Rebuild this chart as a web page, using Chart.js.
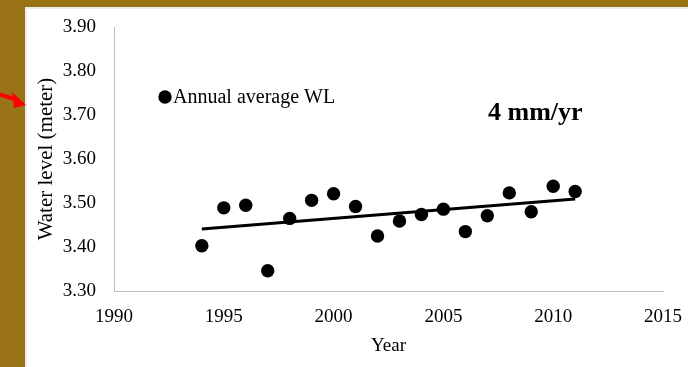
<!DOCTYPE html>
<html>
<head>
<meta charset="utf-8">
<script src="https://cdn.jsdelivr.net/npm/chart.js@4/dist/chart.umd.min.js"></script>
<style>
  html, body { margin: 0; padding: 0; }
  body { width: 688px; height: 367px; background: #9a7316; position: relative; overflow: hidden; }
  #wrap { position: absolute; left: 25px; top: 7px; width: 663px; height: 360px; background: #ffffff; box-shadow: inset 2px 2px 0 #ececec; }
  #arrow { position: absolute; left: 0; top: 80px; }
</style>
</head>
<body>
<div id="wrap"><canvas id="c" width="663" height="360"></canvas></div>
<svg id="arrow" width="30" height="40" viewBox="0 0 30 40">
  <line x1="0" y1="14.5" x2="17" y2="20" stroke="#ff0000" stroke-width="4"/>
  <polygon points="12,12 26,25 14,28" fill="#ff0000"/>
</svg>
<script>
const years = [1994,1995,1996,1997,1998,1999,2000,2001,2002,2003,2004,2005,2006,2007,2008,2009,2010,2011];
const waterLevel = [3.403,3.489,3.495,3.346,3.465,3.506,3.521,3.492,3.425,3.459,3.474,3.486,3.435,3.471,3.523,3.480,3.538,3.526];
const trendYears = [1994, 2011];
const trendValues = [3.441, 3.509];
const xTicks = [1990, 1995, 2000, 2005, 2010, 2015];
const yTicks = [3.30, 3.40, 3.50, 3.60, 3.70, 3.80, 3.90];
const seriesLabel = 'Annual average WL';
const rateLabel = '4 mm/yr';

const FONT = "'Liberation Serif', 'Times New Roman', serif";

const overlay = {
  id: 'overlay',
  afterDatasetsDraw(chart) {
    const {ctx, chartArea} = chart;
    ctx.save();
    // legend
    const mx = chartArea.left + 51, my = chartArea.top + 70;
    ctx.fillStyle = '#000';
    ctx.beginPath();
    ctx.arc(mx, my, 6.7, 0, Math.PI * 2);
    ctx.fill();
    ctx.font = "20px " + FONT;
    ctx.textBaseline = 'middle';
    ctx.textAlign = 'left';
    ctx.fillText(seriesLabel, mx + 8, my + 1);
    // rate annotation
    ctx.font = "bold 26px " + FONT;
    ctx.fillText(rateLabel, chartArea.left + 374, chartArea.top + 86);
    ctx.restore();
  }
};

new Chart(document.getElementById('c'), {
  type: 'scatter',
  data: {
    datasets: [
      {
        label: seriesLabel,
        data: years.map((y, i) => ({x: y, y: waterLevel[i]})),
        pointRadius: 6.7,
        pointHoverRadius: 6.7,
        backgroundColor: '#000',
        borderColor: '#000',
        borderWidth: 0
      },
      {
        label: 'Trend',
        type: 'line',
        data: trendYears.map((y, i) => ({x: y, y: trendValues[i]})),
        borderColor: '#000',
        borderWidth: 3,
        pointRadius: 0,
        fill: false
      }
    ]
  },
  options: {
    responsive: false,
    animation: false,
    devicePixelRatio: 1,
    layout: { padding: { left: 0, top: 20, right: 25, bottom: 0 } },
    plugins: { legend: { display: false }, tooltip: { enabled: false } },
    scales: {
      x: {
        type: 'linear',
        min: 1990, max: 2015,
        afterBuildTicks(scale) { scale.ticks = xTicks.map(v => ({value: v})); },
        afterFit(scale) { scale.height = 76; scale.paddingLeft = 0; scale.paddingRight = 0; },
        grid: { display: false, drawTicks: false },
        border: { display: true, color: '#bfbfbf', width: 1 },
        ticks: { color: '#000', font: { family: FONT, size: 19 }, padding: 15, maxRotation: 0, autoSkip: false, callback: v => String(v) },
        title: { display: true, text: 'Year', color: '#000', font: { family: FONT, size: 19, lineHeight: 1.2 }, padding: { top: 0, bottom: 10 } }
      },
      y: {
        type: 'linear',
        min: 3.3, max: 3.9,
        afterBuildTicks(scale) { scale.ticks = yTicks.map(v => ({value: v})); },
        afterFit(scale) { scale.width = 89; scale.paddingTop = 0; scale.paddingBottom = 0; },
        grid: { display: false, drawTicks: false },
        border: { display: true, color: '#bfbfbf', width: 1 },
        ticks: { color: '#000', font: { family: FONT, size: 19 }, padding: 18, autoSkip: false, callback: v => Number(v).toFixed(2) },
        title: { display: true, text: 'Water level (meter)', color: '#000', font: { family: FONT, size: 21, lineHeight: 1.2 }, padding: { top: 9, bottom: 0 } }
      }
    }
  },
  plugins: [overlay]
});
</script>
</body>
</html>
